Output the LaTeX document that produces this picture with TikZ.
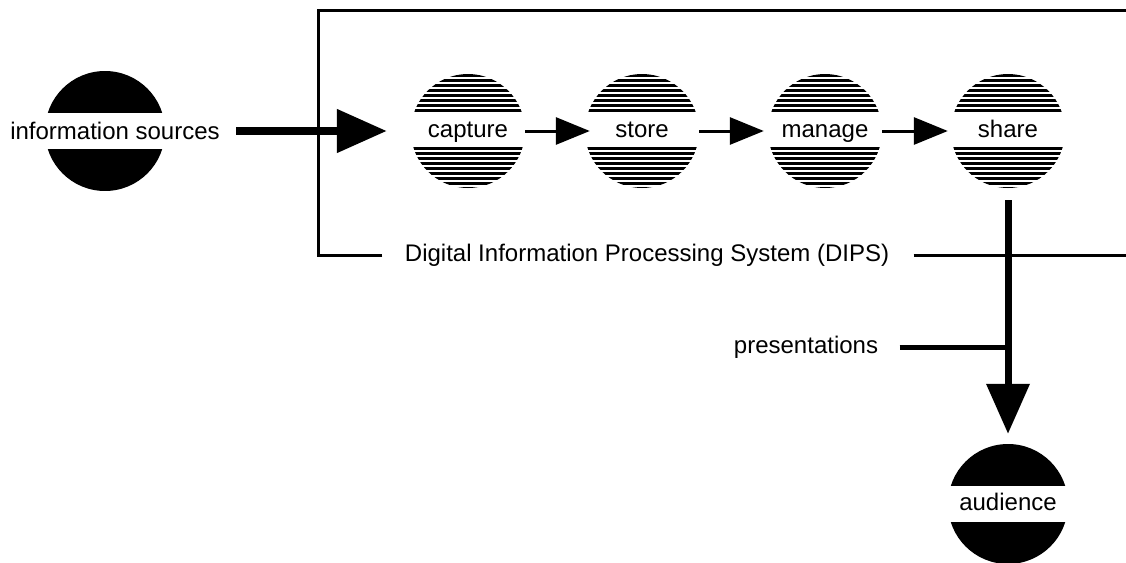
\documentclass[tikz,border=0pt]{standalone}
\usepackage{fontspec}
\setmainfont{Liberation Sans}
\usetikzlibrary{arrows.meta}

\begin{document}
\begin{tikzpicture}[
    x=1pt, y=-1pt,
    every node/.style={font=\fontsize{24}{28}\selectfont},
    terminal/.style={circle, minimum size=120pt, inner sep=0pt,
        text height=17pt, text depth=5pt,
        path picture={
          \fill ([yshift=18pt]path picture bounding box.west) rectangle (path picture bounding box.north east);
          \fill ([yshift=-18pt]path picture bounding box.west) rectangle (path picture bounding box.south east);
        }},
    stage/.style={circle, minimum size=114pt, inner sep=0pt,
        text height=17pt, text depth=5pt,
        path picture={
          \foreach \dy in {20.5,25.5,...,55.5}
            \draw[line width=3pt] ([yshift=\dy pt]path picture bounding box.west) -- ([yshift=\dy pt]path picture bounding box.east);
          \foreach \dy in {17,22,...,57}
            \draw[line width=3pt] ([yshift=-\dy pt]path picture bounding box.west) -- ([yshift=-\dy pt]path picture bounding box.east);
        }},
    bigflow/.style={line width=8pt, -{Triangle[length=50pt,width=42pt]}},
    flow/.style={line width=3pt, -{Triangle[length=34pt,width=27pt]}},
    frame/.style={line width=3pt}
]
\useasboundingbox (0,0) rectangle (1126,562);

% the system frame
\coordinate (boxtl) at (318,10);
\coordinate (boxtr) at (1130,10);
\coordinate (boxbl) at (318,255);
\coordinate (boxbr) at (1130,255);
\node (dips) at (647,255) {Digital Information Processing System (DIPS)};
\draw[frame] ([xshift=-19pt]dips.west) -- (boxbl) -- (boxtl) -- (boxtr);
\draw[frame] ([xshift=21pt]dips.east) -- (boxbr);

% sources and stages
\node (src) [terminal] at (105,131) {};
\node (srctext) at ([xshift=10pt]src.center) {information sources};
\node (capture) [stage] at (468,131) {capture};
\node (store) [stage] at (642,131) {store};
\node (manage) [stage] at (825,131) {manage};
\node (share) [stage] at (1008,131) {share};
\node (aud) [terminal] at (1008,504) {audience};
\node (pres) at (806,347) {presentations};

% flows
\draw[bigflow] ([xshift=13pt]srctext.east) -- ([xshift=-24pt]capture.west);
\draw[flow] (capture.east) -- ([xshift=5pt]store.west);
\draw[flow] (store.east) -- ([xshift=-4pt]manage.west);
\draw[flow] (manage.east) -- ([xshift=-3pt]share.west);
\draw[bigflow, line width=7pt] ([yshift=-12pt]share.south) -- ([yshift=10pt]aud.north);
\draw[line width=5pt] ([xshift=18pt]pres.east) -- (pres.east -| share.south);

\end{tikzpicture}
\end{document}
